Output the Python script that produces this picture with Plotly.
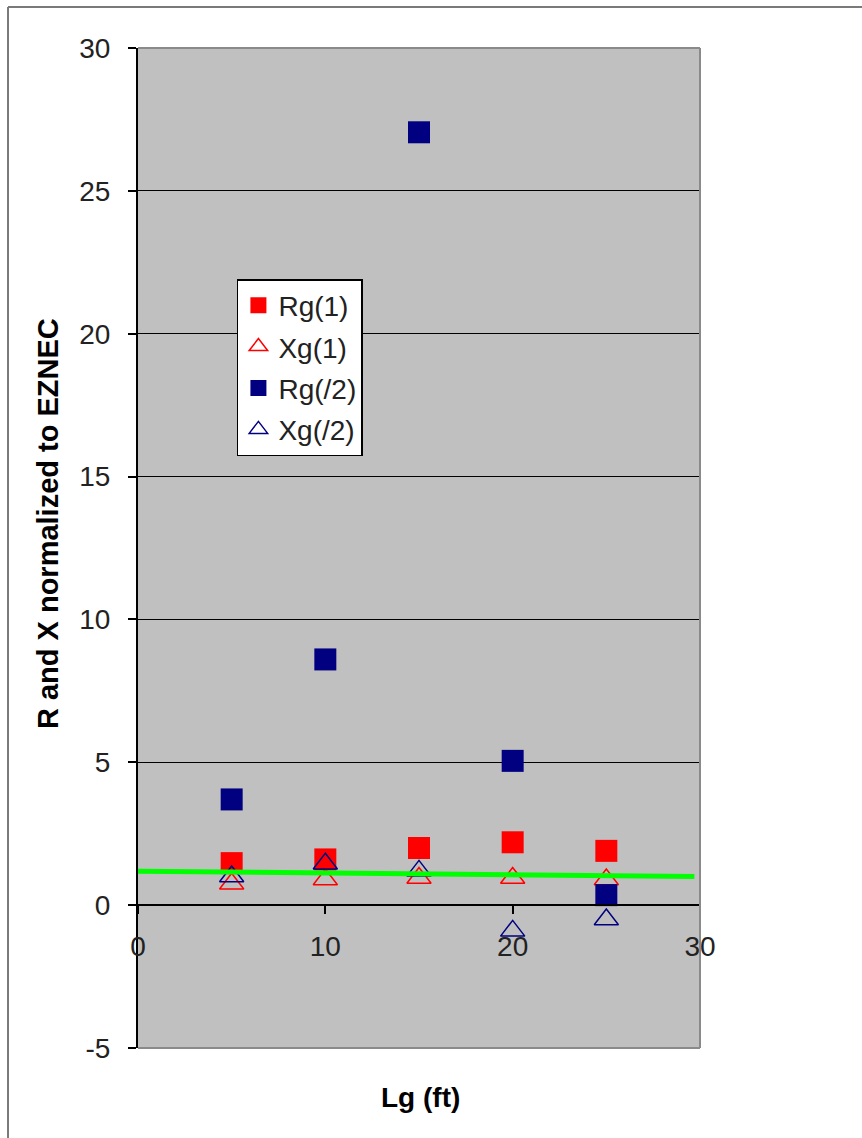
import plotly.graph_objects as go

# Ground-wire length (ft)
lg_ft = [5, 10, 15, 20, 25]

# Resistance / reactance normalized to EZNEC
rg_1 = [1.47, 1.6, 2.0, 2.2, 1.9]
xg_1 = [0.75, 0.9, 0.95, 0.95, 0.9]
rg_half = [3.7, 8.6, 27.05, 5.05, 0.35]
xg_half = [1.0, 1.45, 1.2, -0.9, -0.5]

# Reference trend line end points
trend_x = [0, 29.7]
trend_y = [1.19, 1.0]

y_ticks = [-5, 0, 5, 10, 15, 20, 25, 30]
x_ticks = [0, 10, 20, 30]

FONT = "Liberation Sans, Arial, sans-serif"
RED = "#ff0000"
NAVY = "#000080"

fig = go.Figure()

fig.add_trace(go.Scatter(
    x=lg_ft, y=rg_1, mode="markers", name="Rg(1)", legendgroup="a",
    marker=dict(symbol="square", size=22, color=RED),
))
fig.add_trace(go.Scatter(
    x=lg_ft, y=xg_1, mode="markers", name="Xg(1)", legendgroup="b",
    marker=dict(symbol="triangle-up-open", size=21, color=RED,
                line=dict(width=1.5, color=RED)),
))
fig.add_trace(go.Scatter(
    x=lg_ft, y=rg_half, mode="markers", name="Rg(/2)", legendgroup="c",
    marker=dict(symbol="square", size=22, color=NAVY),
))
fig.add_trace(go.Scatter(
    x=lg_ft, y=xg_half, mode="markers", name="Xg(/2)", legendgroup="d",
    marker=dict(symbol="triangle-up-open", size=21, color=NAVY,
                line=dict(width=1.5, color=NAVY)),
))
fig.add_trace(go.Scatter(
    x=trend_x, y=trend_y, mode="lines", showlegend=False,
    line=dict(color="#00ff00", width=5),
))

grey_line = dict(color="#8a8a8a", width=2)
frame_line = dict(color="#7a7a7a", width=2)
shapes = [
    # plot-area border (top, right, bottom)
    dict(type="line", xref="paper", yref="paper", x0=0, x1=1, y0=1, y1=1, line=grey_line),
    dict(type="line", xref="paper", yref="paper", x0=1, x1=1, y0=0, y1=1, line=grey_line),
    dict(type="line", xref="paper", yref="paper", x0=0, x1=1, y0=0, y1=0, line=grey_line),
    # outer chart frame (left and top)
    dict(type="line", xref="paper", yref="paper", x0=-0.2313, x1=-0.2313,
         y0=-0.2, y1=1.041, line=frame_line),
    dict(type="line", xref="paper", yref="paper", x0=-0.2313, x1=1.4,
         y0=1.041, y1=1.041, line=frame_line),
]

fig.update_layout(
    width=862, height=1138,
    margin=dict(l=138, r=162, t=48, b=90),
    paper_bgcolor="white",
    plot_bgcolor="#c0c0c0",
    font=dict(family=FONT, color="#222222"),
    showlegend=True,
    legend=dict(
        x=0.176, y=0.769, xanchor="left", yanchor="top",
        bgcolor="white", bordercolor="black", borderwidth=1.5,
        font=dict(family=FONT, size=28, color="#222222"),
        traceorder="grouped", tracegroupgap=2,
        itemwidth=30,
    ),
    shapes=shapes,
    annotations=[
        dict(text="<b>R and X normalized to EZNEC</b>", xref="paper", yref="paper",
             x=-0.160, y=0.524, textangle=-90, showarrow=False,
             font=dict(family=FONT, size=29, color="black"),
             xanchor="center", yanchor="middle"),
        dict(text="<b>Lg (ft)</b>", xref="paper", yref="paper",
             x=0.502, y=-0.049, showarrow=False,
             font=dict(family=FONT, size=28, color="black"),
             xanchor="center", yanchor="middle"),
    ],
)

fig.update_yaxes(
    range=[-5, 30], tickvals=y_ticks, ticktext=[str(v) for v in y_ticks],
    showgrid=True, gridcolor="black", gridwidth=1,
    zeroline=False,
    showline=True, linecolor="black", linewidth=2,
    ticks="outside", ticklen=8, tickcolor="black", tickwidth=2,
    ticklabelstandoff=12,
    tickfont=dict(family=FONT, size=28, color="#222222"),
)
fig.update_xaxes(
    range=[0, 30], tickvals=x_ticks, ticktext=[str(v) for v in x_ticks],
    anchor="free", position=5 / 35,
    showgrid=False, zeroline=False,
    showline=True, linecolor="black", linewidth=2,
    ticks="outside", ticklen=8, tickcolor="black", tickwidth=2,
    ticklabelstandoff=8,
    tickfont=dict(family=FONT, size=28, color="#222222"),
)

fig.write_html("out.html")
